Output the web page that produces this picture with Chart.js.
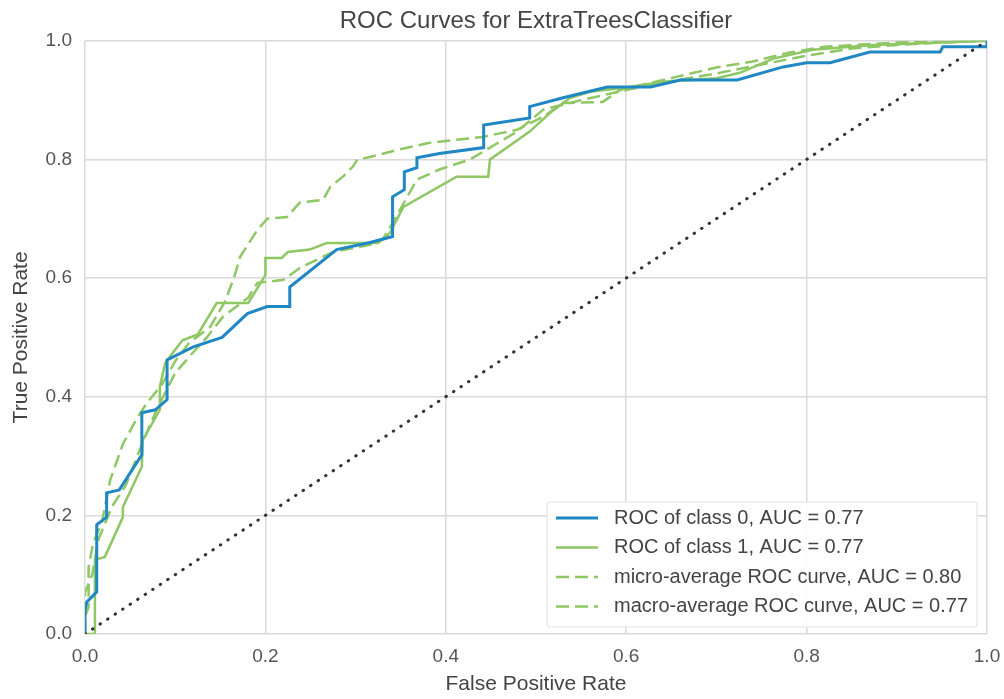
<!DOCTYPE html>
<html>
<head>
<meta charset="utf-8">
<title>ROC Curves for ExtraTreesClassifier</title>
<script src="https://cdn.jsdelivr.net/npm/chart.js@4.4.0/dist/chart.umd.min.js"></script>
<style>
  body { margin: 0; background: #fff; }
  canvas { display: block; }
</style>
</head>
<body>
<canvas id="rocChart" width="1004" height="699"></canvas>
<script>
// curve values (false positive rate / true positive rate)
var class0Fpr = [0, 0, 0.002, 0.013, 0.013, 0.024, 0.024, 0.038, 0.063, 0.063, 0.078, 0.091, 0.091, 0.12, 0.152, 0.18, 0.202, 0.227, 0.227, 0.279, 0.316, 0.341, 0.341, 0.354, 0.354, 0.368, 0.368, 0.393, 0.442, 0.442, 0.493, 0.493, 0.53, 0.579, 0.627, 0.66, 0.723, 0.774, 0.8, 0.826, 0.87, 0.948, 0.951, 1, 1];
var class0Tpr = [0, 0.04, 0.054, 0.071, 0.184, 0.197, 0.238, 0.243, 0.302, 0.373, 0.378, 0.395, 0.462, 0.484, 0.5, 0.54, 0.552, 0.552, 0.585, 0.648, 0.66, 0.67, 0.737, 0.749, 0.779, 0.786, 0.803, 0.81, 0.82, 0.858, 0.87, 0.889, 0.904, 0.922, 0.922, 0.934, 0.934, 0.956, 0.963, 0.963, 0.981, 0.981, 0.99, 0.99, 1];

var class1Fpr = [0, 0.011, 0.011, 0.022, 0.042, 0.042, 0.063, 0.064, 0.083, 0.083, 0.089, 0.108, 0.125, 0.146, 0.181, 0.2, 0.2, 0.218, 0.225, 0.249, 0.268, 0.325, 0.338, 0.353, 0.412, 0.447, 0.449, 0.493, 0.516, 0.538, 0.56, 0.604, 0.641, 0.7, 0.726, 0.763, 0.807, 0.874, 1];
var class1Tpr = [0, 0, 0.125, 0.13, 0.197, 0.214, 0.282, 0.327, 0.378, 0.417, 0.457, 0.495, 0.505, 0.558, 0.558, 0.605, 0.634, 0.634, 0.644, 0.648, 0.659, 0.659, 0.676, 0.72, 0.771, 0.771, 0.8, 0.847, 0.879, 0.904, 0.914, 0.922, 0.931, 0.937, 0.946, 0.97, 0.985, 0.993, 1];

var microFpr = [0, 0, 0.004, 0.004, 0.009, 0.019, 0.028, 0.042, 0.058, 0.069, 0.085, 0.1, 0.115, 0.139, 0.155, 0.165, 0.172, 0.191, 0.202, 0.224, 0.238, 0.264, 0.272, 0.286, 0.297, 0.302, 0.316, 0.346, 0.382, 0.441, 0.479, 0.508, 0.53, 0.574, 0.593, 0.641, 0.7, 0.74, 0.78, 0.82, 0.9, 1];
var microTpr = [0, 0.03, 0.045, 0.113, 0.153, 0.19, 0.26, 0.32, 0.365, 0.39, 0.42, 0.46, 0.49, 0.518, 0.56, 0.6, 0.636, 0.681, 0.7, 0.703, 0.727, 0.732, 0.754, 0.771, 0.788, 0.8, 0.804, 0.816, 0.828, 0.838, 0.85, 0.872, 0.895, 0.897, 0.917, 0.934, 0.955, 0.965, 0.98, 0.99, 0.997, 1];

var macroFpr = [0, 0, 0.008, 0.015, 0.03, 0.045, 0.058, 0.07, 0.08, 0.09, 0.1, 0.12, 0.135, 0.153, 0.181, 0.191, 0.22, 0.238, 0.275, 0.316, 0.33, 0.341, 0.368, 0.393, 0.427, 0.449, 0.479, 0.508, 0.55, 0.6, 0.65, 0.7, 0.75, 0.8, 0.85, 0.9, 0.95, 1];
var macroTpr = [0, 0.07, 0.1, 0.16, 0.215, 0.25, 0.3, 0.345, 0.38, 0.41, 0.44, 0.475, 0.5, 0.535, 0.567, 0.592, 0.597, 0.617, 0.644, 0.656, 0.665, 0.693, 0.766, 0.783, 0.8, 0.82, 0.847, 0.884, 0.9, 0.917, 0.932, 0.945, 0.96, 0.975, 0.987, 0.993, 0.997, 1];

var chanceFpr = [0, 1];
var chanceTpr = [0, 1];

var curveLabels = [
  "ROC of class 0, AUC = 0.77",
  "ROC of class 1, AUC = 0.77",
  "micro-average ROC curve, AUC = 0.80",
  "macro-average ROC curve, AUC = 0.77"
];
var axisTicks = [0, 0.2, 0.4, 0.6, 0.8, 1.0];

var FONT = "'Liberation Sans', Arial, sans-serif";
var BLUE = "#1f87c3";
var GREEN = "#8ec763";

function toPoints(xs, ys) {
  return xs.map(function(x, i) { return { x: x, y: ys[i] }; });
}

// legend box drawn inside the plot, lower right, like matplotlib's
var insideLegend = {
  id: "insideLegend",
  afterDraw: function(chart) {
    var ctx = chart.ctx;
    var area = chart.chartArea;
    var items = chart.data.datasets.filter(function(d) { return d.label; });
    var w = 430, h = 125;
    var x = area.right - 10 - w;
    var y = area.bottom - 7 - h;

    ctx.save();
    ctx.fillStyle = "rgba(255,255,255,0.95)";
    ctx.strokeStyle = "#e4e4e4";
    ctx.lineWidth = 1.2;
    ctx.beginPath();
    ctx.roundRect(x, y, w, h, 3);
    ctx.fill();
    ctx.stroke();

    ctx.font = "20px " + FONT;
    ctx.textBaseline = "middle";
    items.forEach(function(d, i) {
      var cy = y + 16 + i * 29.5;
      ctx.strokeStyle = d.borderColor;
      ctx.lineWidth = d.borderWidth;
      ctx.setLineDash(d.borderDash || []);
      ctx.beginPath();
      ctx.moveTo(x + 9, cy);
      ctx.lineTo(x + 51, cy);
      ctx.stroke();
      ctx.setLineDash([]);
      ctx.fillStyle = "#444";
      ctx.fillText(d.label, x + 67, cy);
    });
    ctx.restore();
  }
};

new Chart("rocChart", {
  type: "scatter",
  data: {
    datasets: [
      {
        data: toPoints(chanceFpr, chanceTpr),
        borderColor: "#333",
        borderWidth: 3,
        borderDash: [0.5, 8.5],
        borderCapStyle: "round",
        order: 0
      },
      {
        label: curveLabels[0],
        data: toPoints(class0Fpr, class0Tpr),
        borderColor: BLUE,
        borderWidth: 3,
        order: 1
      },
      {
        label: curveLabels[1],
        data: toPoints(class1Fpr, class1Tpr),
        borderColor: GREEN,
        borderWidth: 2.5,
        order: 2
      },
      {
        label: curveLabels[2],
        data: toPoints(microFpr, microTpr),
        borderColor: GREEN,
        borderWidth: 2.5,
        borderDash: [13, 6],
        order: 3
      },
      {
        label: curveLabels[3],
        data: toPoints(macroFpr, macroTpr),
        borderColor: GREEN,
        borderWidth: 2.5,
        borderDash: [13, 6],
        order: 4
      }
    ]
  },
  options: {
    responsive: false,
    animation: false,
    showLine: true,
    elements: {
      point: { radius: 0, hoverRadius: 0 },
      line: { tension: 0, fill: false }
    },
    layout: { padding: { top: 0, right: 17, bottom: 0, left: 0 } },
    plugins: {
      legend: { display: false },
      tooltip: { enabled: false },
      title: {
        display: true,
        fullSize: false,
        text: "ROC Curves for ExtraTreesClassifier",
        color: "#444",
        font: { family: FONT, size: 24, weight: "normal" },
        padding: { top: 7, bottom: 5 }
      }
    },
    scales: {
      x: {
        type: "linear",
        min: 0,
        max: 1,
        afterBuildTicks: function(scale) {
          scale.ticks = axisTicks.map(function(v) { return { value: v }; });
        },
        afterFit: function(scale) {
          scale.height = 65;
          scale.paddingLeft = 0;
          scale.paddingRight = 0;
        },
        ticks: {
          padding: 11,
          color: "#555",
          maxRotation: 0,
          autoSkip: false,
          font: { family: FONT, size: 19 },
          callback: function(v) { return v.toFixed(1); }
        },
        grid: { color: "#dadada", lineWidth: 1.5, drawTicks: false },
        border: { display: false },
        title: {
          display: true,
          text: "False Positive Rate",
          color: "#444",
          font: { family: FONT, size: 21 },
          padding: { top: 0, bottom: 2 }
        }
      },
      y: {
        type: "linear",
        min: 0,
        max: 1,
        afterBuildTicks: function(scale) {
          scale.ticks = axisTicks.map(function(v) { return { value: v }; });
        },
        afterFit: function(scale) {
          scale.width = 85;
          scale.paddingTop = 0;
          scale.paddingBottom = 0;
        },
        ticks: {
          padding: 13,
          color: "#555",
          autoSkip: false,
          font: { family: FONT, size: 19 },
          callback: function(v) { return v.toFixed(1); }
        },
        grid: { color: "#dadada", lineWidth: 1.5, drawTicks: false },
        border: { display: false },
        title: {
          display: true,
          text: "True Positive Rate",
          color: "#444",
          font: { family: FONT, size: 21 },
          padding: { top: 9, bottom: 0 }
        }
      }
    }
  },
  plugins: [insideLegend]
});
</script>
</body>
</html>
